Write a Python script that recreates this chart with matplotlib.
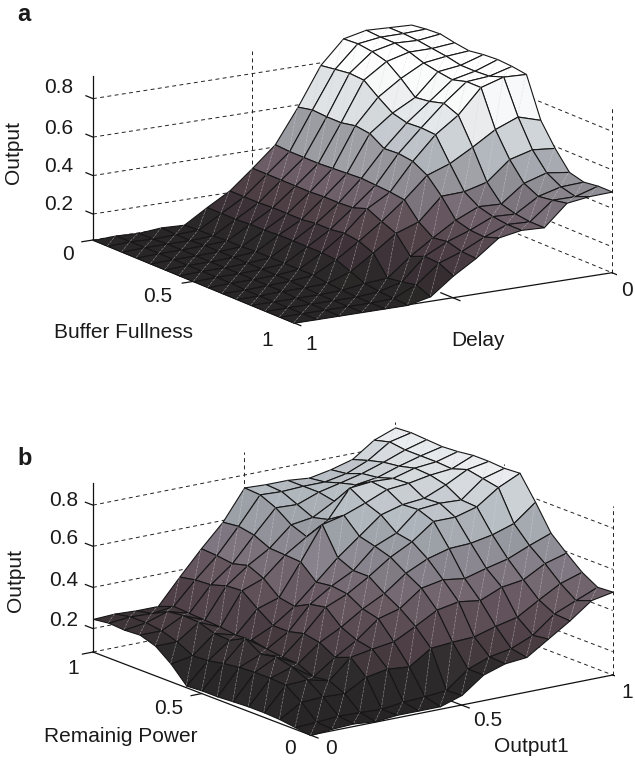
import numpy as np
import matplotlib
matplotlib.use('Agg')
import matplotlib.pyplot as plt
from matplotlib.colors import LinearSegmentedColormap, Normalize
from mpl_toolkits.mplot3d import proj3d
from mpl_toolkits.mplot3d.art3d import Poly3DCollection

plt.rcParams['font.family'] = ['Liberation Sans', 'DejaVu Sans']

W, H = 635, 760

# panel a: one row per Delay (1 -> 0), one column per Buffer Fullness (0 -> 1)
output_a = [
    [.065, .065, .065, .065, .065, .065, .065, .065, .065, .065, .065, .065, .065, .065, .065],
    [.070, .070, .070, .070, .070, .070, .070, .070, .070, .065, .065, .065, .065, .065, .065],
    [.065, .065, .070, .070, .070, .070, .070, .070, .070, .070, .070, .065, .065, .065, .065],
    [.075, .070, .070, .075, .075, .075, .075, .075, .075, .075, .070, .065, .065, .065, .065],
    [.070, .075, .075, .081, .081, .086, .086, .086, .086, .086, .075, .070, .065, .065, .065],
    [.143, .143, .143, .148, .148, .154, .154, .154, .154, .148, .117, .086, .075, .070, .065],
    [.211, .211, .211, .216, .216, .216, .226, .226, .237, .226, .195, .096, .107, .122, .091],
    [.310, .310, .310, .310, .310, .315, .315, .320, .346, .310, .279, .190, .221, .216, .180],
    [.414, .409, .409, .409, .414, .419, .424, .419, .414, .404, .320, .268, .279, .258, .253],
    [.591, .607, .602, .602, .617, .607, .560, .565, .555, .513, .435, .341, .320, .315, .341],
    [.789, .800, .810, .805, .747, .695, .675, .680, .675, .555, .440, .393, .372, .362, .362],
    [.909, .914, .904, .883, .826, .758, .768, .789, .758, .622, .471, .388, .367, .357, .357],
    [.935, .930, .930, .914, .888, .873, .862, .883, .883, .695, .570, .477, .440, .451, .466],
    [.930, .930, .925, .914, .904, .888, .888, .893, .919, .742, .602, .513, .471, .451, .482],
    [.925, .935, .940, .925, .914, .925, .930, .925, .914, .706, .591, .497, .477, .487, .487],
]

# panel b: one row per Remaining Power (1 -> 0), one column per Output1 (0 -> 1)
output_b = [
    [.247, .252, .247, .247, .369, .486, .594, .740, .735, .735, .725, .745, .774, .847, .886],
    [.257, .267, .262, .276, .384, .481, .603, .735, .730, .735, .735, .755, .798, .867, .891],
    [.252, .267, .301, .271, .389, .471, .589, .701, .696, .735, .759, .784, .818, .857, .886],
    [.257, .257, .310, .267, .413, .491, .554, .647, .662, .720, .779, .794, .828, .857, .881],
    [.232, .232, .306, .262, .418, .457, .550, .618, .681, .813, .823, .818, .847, .857, .886],
    [.174, .193, .281, .252, .359, .393, .545, .706, .730, .769, .813, .823, .842, .852, .896],
    [.096, .198, .276, .257, .306, .379, .476, .574, .657, .740, .769, .779, .823, .877, .896],
    [.101, .213, .315, .242, .306, .418, .486, .540, .637, .681, .774, .784, .779, .862, .891],
    [.101, .223, .267, .232, .325, .432, .476, .540, .613, .667, .745, .745, .774, .847, .896],
    [.106, .228, .281, .228, .310, .364, .432, .486, .564, .613, .642, .647, .667, .701, .784],
    [.110, .228, .262, .193, .267, .330, .413, .442, .520, .540, .525, .554, .579, .623, .662],
    [.110, .223, .228, .203, .296, .315, .330, .384, .442, .462, .447, .491, .506, .564, .594],
    [.106, .169, .174, .169, .228, .247, .237, .306, .315, .320, .350, .374, .437, .496, .530],
    [.096, .101, .110, .106, .101, .115, .120, .130, .213, .252, .271, .315, .398, .442, .486],
    [.086, .096, .101, .091, .101, .101, .101, .135, .213, .247, .257, .325, .393, .471, .491],
]

z_ticks_a = [.2, .4, .6, .8]
z_ticks_b = [.2, .4, .6, .8]
z_range_a = (.065, .92)
z_range_b = (.086, .91)

# colour by height, different range in each panel
colors_a = [(.07, '#282626'), (.12, '#2d292a'), (.17, '#3a3035'), (.26, '#4e3f45'), (.36, '#6b5c66'),
            (.45, '#87828a'), (.52, '#a0a2a8'), (.60, '#b4bbc1'), (.68, '#d9dde0'), (.78, '#f3f5f6'), (.88, '#ffffff')]
colors_b = [(.09, '#262424'), (.23, '#2e2b2c'), (.28, '#463a3f'), (.38, '#5a4a52'), (.48, '#6f616a'),
            (.57, '#85808a'), (.67, '#9da1a8'), (.74, '#b5bcc2'), (.82, '#cfd4d8'), (.89, '#f0f2f4')]


def make_cmap(stops):
    lo, hi = stops[0][0], stops[-1][0]
    pts = [((v - lo) / (hi - lo), c) for v, c in stops]
    return LinearSegmentedColormap.from_list('surf', pts), Normalize(lo, hi)


def draw_surface(ax, xs, ys, zz, stops):
    cmap, norm = make_cmap(stops)
    n = len(xs) - 1
    order = 2.0
    # far corner first, the grid gives the painter's order directly
    for i in range(n):
        for j in range(n - 1, -1, -1):
            x4 = [xs[i], xs[i + 1], xs[i + 1], xs[i]]
            y4 = [ys[j], ys[j], ys[j + 1], ys[j + 1]]
            z4 = [zz[j][i], zz[j][i + 1], zz[j + 1][i + 1], zz[j + 1][i]]
            face = cmap(norm(np.mean(z4)))
            quad = Poly3DCollection([list(zip(x4, y4, z4))], facecolors=[face], edgecolors='#161616', linewidths=0.8)
            quad.set_zorder(order)
            ax.add_collection3d(quad, autolim=False)
            # seam between the two triangles of the quad
            ax.plot([x4[1], x4[3]], [y4[1], y4[3]], [z4[1], z4[3]], color='#d5d5d8', lw=0.35, alpha=0.7,
                    dashes=(6, 2), zorder=order + 0.5)
            order += 1


def fit_axes(ax, corner_from, corner_to, px_from, px_to):
    # scale and shift the square axes so two floor corners land on given pixels
    def project(p):
        ax.apply_aspect()
        x, y, _ = proj3d.proj_transform(p[0], p[1], p[2], ax.get_proj())
        return np.array(ax.transData.transform((x, y))) * 100 / fig.dpi

    size = 600.0
    ax.set_position([0.02, 0.02, size / W, size / H])
    a, b = project(corner_from), project(corner_to)
    target_a = np.array([px_from[0], H - px_from[1]], dtype=float)
    target_b = np.array([px_to[0], H - px_to[1]], dtype=float)
    size *= np.linalg.norm(target_b - target_a) / np.linalg.norm(b - a)
    ax.set_position([0.02, 0.02, size / W, size / H])
    a = project(corner_from)
    off = target_a - a
    ax.set_position([0.02 + off[0] / W, 0.02 + off[1] / H, size / W, size / H])


def walls(ax, z_ticks, zlo, zhi, x_left, x_back, x_right, y_left, y_back, y_right):
    dash = dict(color='#222222', lw=0.7, dashes=(4, 3.5), zorder=1)
    for z in [zlo] + z_ticks:
        ax.plot([x_left, x_back, x_right], [y_left, y_back, y_right], [z, z, z], **dash)
    ax.plot([x_back] * 2, [y_back] * 2, [zlo, zhi], **dash)
    ax.plot([x_right] * 2, [y_right] * 2, [zlo, zhi], **dash)
    xm, ym = (x_left + x_back) / 2, (y_left + y_back) / 2
    ax.plot([xm, xm], [ym, ym], [zlo, zhi], **dash)
    xr, yr = (x_back + x_right) / 2, (y_back + y_right) / 2
    ax.plot([xr, xr], [yr, yr], [zlo, zhi], **dash)


def new_axes(rect, elev, azim, aspect, xlim, ylim, zlim):
    ax = fig.add_axes(rect, projection='3d', computed_zorder=False)
    ax.set_proj_type('ortho')
    ax.set_xlim(*xlim)
    ax.set_ylim(*ylim)
    ax.set_zlim(*zlim)
    ax.view_init(elev=elev, azim=azim)
    ax.set_box_aspect(aspect)
    ax.set_axis_off()
    ax.patch.set_visible(False)
    return ax


def label(x, y, s, **kw):
    kw.setdefault('fontsize', 15)
    kw.setdefault('ha', 'center')
    kw.setdefault('va', 'center')
    fig.text(x / W, 1 - y / H, s, color='#1a1a1a', **kw)


fig = plt.figure(figsize=(W / 100, H / 100), dpi=100)
grid = np.linspace(0, 1, 15)
solid = dict(color='#111111', lw=0.9, zorder=1.5)

# ---- panel a
zlo, zhi = z_range_a
ax_a = new_axes([0, 0, 1, 1], 14.75, -31.7, (382, 374, 170), (0, 1), (1, 0), z_range_a)
walls(ax_a, z_ticks_a, zlo, zhi, 0, 0, 1, 1, 0, 0)
ax_a.plot([0, 0], [1, 1], [zlo, zhi], **solid)
ax_a.plot([0, 1, 1], [1, 1, 0], [zlo, zlo, zlo], **solid)
for z in z_ticks_a:
    ax_a.plot([-.035, 0], [1, 1], [z, z], **solid)
ax_a.plot([0, 0], [1.035, 1], [zlo, zlo], **solid)
ax_a.plot([.5, .5], [1.035, 1], [zlo, zlo], **solid)
for d in [1, .5, 0]:
    ax_a.plot([.94 if d == .5 else 1, 1.035], [d, d], [zlo, zlo], **solid)
draw_surface(ax_a, grid, grid[::-1], output_a, colors_a)
fit_axes(ax_a, (0, 1, zlo), (1, 0, zlo), (93, 240), (612, 273))

# ---- panel b
zlo, zhi = z_range_b
ax_b = new_axes([0, 0, 1, 1], 16.0, -35.8, (371, 372, 176), (1, 0), (0, 1), z_range_b)
walls(ax_b, z_ticks_b, zlo, zhi, 1, 1, 0, 0, 1, 1)
ax_b.plot([1, 1], [0, 0], [zlo, zhi], **solid)
ax_b.plot([1, 0, 0], [0, 0, 1], [zlo, zlo, zlo], **solid)
for z in z_ticks_b:
    ax_b.plot([1.035, 1], [0, 0], [z, z], **solid)
ax_b.plot([1, 1], [-.035, 0], [zlo, zlo], **solid)
ax_b.plot([.5, .5], [-.035, 0], [zlo, zlo], **solid)
for d in [0, .5, 1]:
    ax_b.plot([.06 if d == .5 else 0, -.035], [d, d], [zlo, zlo], **solid)
draw_surface(ax_b, grid[::-1], grid, np.array(output_b).T, colors_b)
fit_axes(ax_b, (1, 0, zlo), (0, 1, zlo), (93, 652), (612.7, 675))

# ---- text
label(17, 21, 'a', fontweight='bold', fontsize=17, ha='left', va='baseline')
for y, s in zip([87.7, 128, 166, 204], ['0.8', '0.6', '0.4', '0.2']):
    label(59, y, s)
label(68, 255, '0')
label(13, 152, 'Output', rotation=90)
label(158, 296, '0.5')
label(123, 332, 'Buffer Fullness')
label(267, 341, '1')
label(311, 345, '1')
label(478, 340, 'Delay')
label(627, 290, '0')

label(17, 465, 'b', fontweight='bold', fontsize=17, ha='left', va='baseline')
for y, s in zip([501, 538, 580, 621], ['0.8', '0.6', '0.4', '0.2']):
    label(64, y, s)
label(73, 669, '1')
label(16, 581, 'Output', rotation=90)
label(169, 708, '0.5')
label(121, 736, 'Remainig Power')
label(290, 749, '0')
label(331, 749, '0')
label(488, 721, '0.5')
label(531, 746, 'Output1')
label(627, 693, '1')

fig.savefig('out.png', dpi=100)
